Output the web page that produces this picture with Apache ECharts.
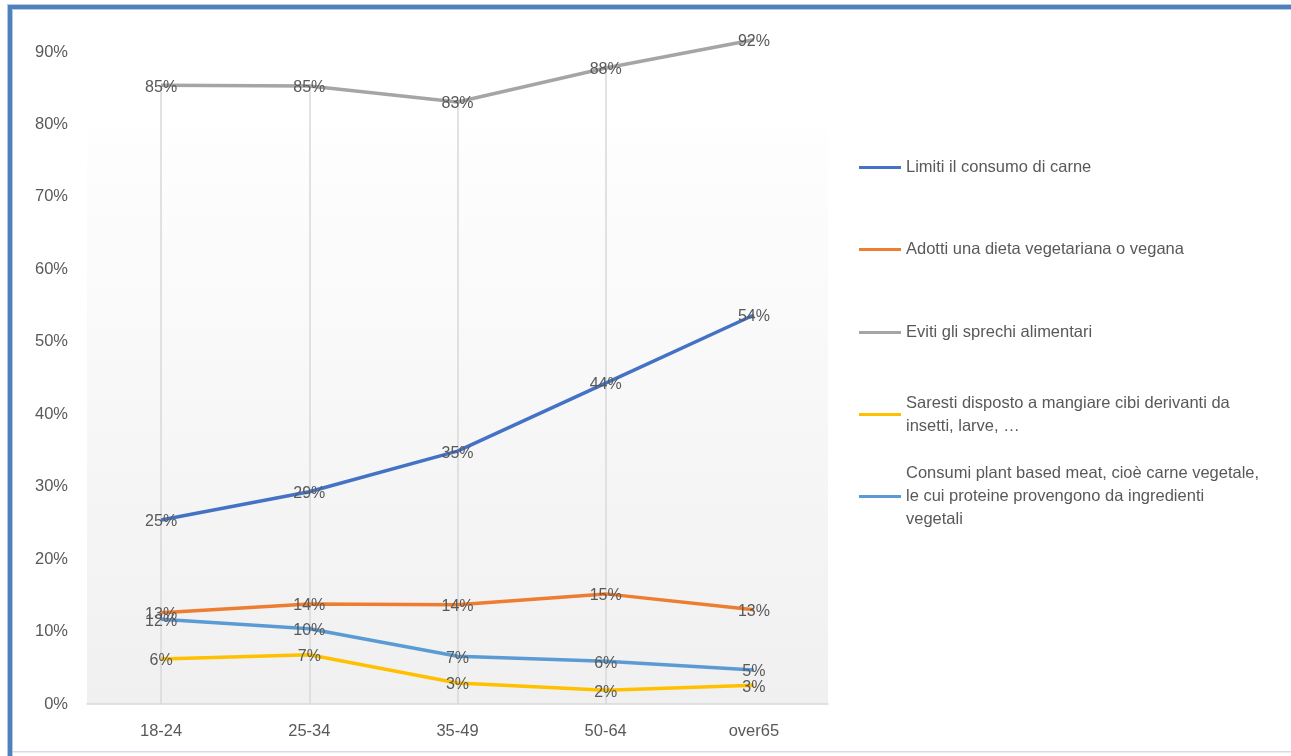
<!DOCTYPE html>
<html>
<head>
<meta charset="utf-8">
<script src="https://cdn.jsdelivr.net/npm/echarts@6/dist/echarts.min.js"></script>
<style>
  html, body { margin: 0; padding: 0; background: #ffffff; }
  #chart { width: 1291px; height: 756px; }
</style>
</head>
<body>
<div id="chart"></div>
<script>
// Age groups on the x axis
const categories = ['18-24', '25-34', '35-49', '50-64', 'over65'];

// Series names (legend) and the wrapped form shown in the legend
const seriesNames = [
  'Limiti il consumo di carne',
  'Adotti una dieta vegetariana o vegana',
  'Eviti gli sprechi alimentari',
  'Saresti disposto a mangiare cibi derivanti da insetti, larve, …',
  'Consumi plant based meat, cioè carne vegetale, le cui proteine provengono da ingredienti vegetali'
];
const legendLabels = [
  'Limiti il consumo di carne',
  'Adotti una dieta vegetariana o vegana',
  'Eviti gli sprechi alimentari',
  'Saresti disposto a mangiare cibi derivanti da\ninsetti, larve, …',
  'Consumi plant based meat, cioè carne vegetale,\nle cui proteine provengono da ingredienti\nvegetali'
];

// Percentages per age group
const limitiCarne   = [25.4, 29.3, 34.9, 44.3, 53.7];
const dietaVeg      = [12.6, 13.8, 13.7, 15.2, 13.0];
const evitiSprechi  = [85.4, 85.3, 83.1, 87.8, 91.7];
const insetti       = [6.2, 6.8, 2.9, 1.9, 2.6];
const plantBased    = [11.7, 10.4, 6.6, 5.9, 4.7];

// Y axis tick values
const yTicks = [0, 10, 20, 30, 40, 50, 60, 70, 80, 90];

const colors = ['#4472C4', '#ED7D31', '#A5A5A5', '#FFC000', '#5B9BD5'];
const allValues = [limitiCarne, dietaVeg, evitiSprechi, insetti, plantBased];

const FONT = '"Liberation Sans", Arial, sans-serif';
const TEXT = '#595959';

// Drop lines: from the highest point of each age group down to the axis
const dropLines = categories.map((c, i) => {
  const top = Math.max(...allValues.map(v => v[i]));
  return [{ coord: [c, top] }, { coord: [c, 0] }];
});

const series = allValues.map((vals, i) => ({
  name: seriesNames[i],
  type: 'line',
  data: vals,
  symbol: 'circle',
  symbolSize: 0.1,
  showSymbol: true,
  clip: false,
  z: 3,
  lineStyle: { color: colors[i], width: 3.5 },
  itemStyle: { color: colors[i] },
  emphasis: { disabled: true },
  label: {
    show: true,
    position: 'inside',
    offset: [0, 2],
    formatter: p => Math.round(p.value) + '%',
    color: TEXT,
    fontFamily: FONT,
    fontSize: 16
  }
}));

series[0].markLine = {
  silent: true,
  symbol: 'none',
  z: 1,
  label: { show: false },
  lineStyle: { color: '#d9d9d9', width: 1.5, type: 'solid' },
  emphasis: { disabled: true },
  data: dropLines
};

// One legend block per item so every icon sits on its first text line
const legendCenters = [167, 249, 332, 414, 496];
const LH = 23;
const legends = seriesNames.map((name, i) => {
  const n = legendLabels[i].split('\n').length;
  return {
    data: [{ name: name, icon: 'rect', itemStyle: { color: colors[i] } }],
    left: 859,
    top: Math.round(legendCenters[i] - (2 * n - 1) * LH / 2),
    orient: 'vertical',
    padding: 0,
    itemWidth: 42,
    itemHeight: 3,
    selectedMode: false,
    formatter: () => legendLabels[i],
    textStyle: {
      color: TEXT,
      fontFamily: FONT,
      fontSize: 16.5,
      lineHeight: LH,
      padding: [(n - 1) * LH, 0, 0, 0]
    }
  };
});

const chart = echarts.init(document.getElementById('chart'), null, { renderer: 'canvas' });
chart.setOption({
  animation: false,
  backgroundColor: '#ffffff',
  textStyle: { fontFamily: FONT },
  grid: { left: 87, right: 463, top: 52, bottom: 52, containLabel: false },
  graphic: [
    // plot background gradient
    {
      type: 'rect', z: -10, silent: true,
      shape: { x: 87, y: 128, width: 741, height: 576 },
      style: {
        fill: new echarts.graphic.LinearGradient(0, 0, 0, 1, [
          { offset: 0, color: '#fefefe' },
          { offset: 1, color: '#f0f0f0' }
        ])
      }
    },
    // frame
    { type: 'rect', z: 10, silent: true, shape: { x: 7, y: 4, width: 1284, height: 6 }, style: { fill: '#b4c8e4' } },
    { type: 'rect', z: 11, silent: true, shape: { x: 8, y: 5, width: 1283, height: 4 }, style: { fill: '#4F81BD' } },
    { type: 'rect', z: 10, silent: true, shape: { x: 7, y: 4, width: 6, height: 752 }, style: { fill: '#b4c8e4' } },
    { type: 'rect', z: 11, silent: true, shape: { x: 8, y: 5, width: 4, height: 751 }, style: { fill: '#4F81BD' } },
    { type: 'rect', z: 10, silent: true, shape: { x: 13, y: 751, width: 1278, height: 1.5 }, style: { fill: '#d6dde8' } }
  ],
  legend: legends,
  xAxis: {
    type: 'category',
    data: categories,
    boundaryGap: true,
    axisLine: { show: true, lineStyle: { color: '#d9d9d9', width: 1.5 } },
    axisTick: { show: false },
    splitLine: { show: false },
    axisLabel: { color: TEXT, fontFamily: FONT, fontSize: 16.5, margin: 19 }
  },
  yAxis: {
    type: 'value',
    min: yTicks[0],
    max: yTicks[yTicks.length - 1],
    interval: 10,
    axisLine: { show: false },
    axisTick: { show: false },
    splitLine: { show: false },
    axisLabel: {
      color: TEXT, fontFamily: FONT, fontSize: 16.5, margin: 19,
      formatter: v => v + '%'
    }
  },
  series: series
});
</script>
</body>
</html>
